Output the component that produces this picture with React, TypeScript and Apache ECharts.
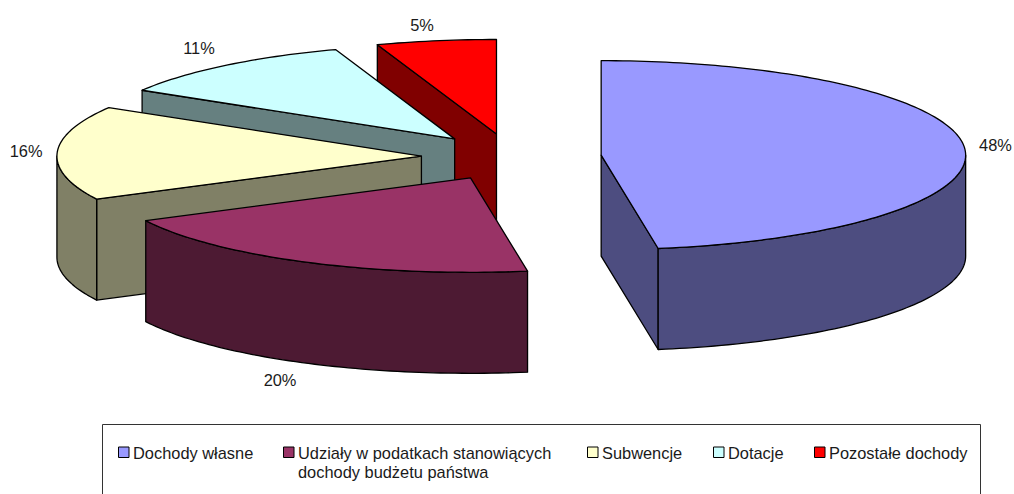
import React, { useEffect, useRef } from "react";
import * as echarts from "echarts";

const categories = ["Dochody własne", "Udziały w podatkach stanowiących\ndochody budżetu państwa", "Subwencje", "Dotacje", "Pozostałe dochody"];
const shares = [47.5, 20, 16.1, 11.1, 5.3];
const percentLabels = ["48%", "20%", "16%", "11%", "5%"];
const topColors = ["#9999FF", "#993366", "#FFFFCC", "#CCFFFF", "#FF0000"];
const wallColors = ["#4D4D80", "#4D1A33", "#808066", "#668080", "#800000"];

const CX = 511.4, CY = 157, RX = 364.5, RY = 94.5, DEPTH = 101, EXPLODE = 0.247;
const LABEL_SHIFT = [[31, -3], [-25, 17], [-31, -2], [-26, -17], [-14, -16]];
const LEGEND_X = [118, 283, 587, 713, 814];
const FONT = "16.4px 'Liberation Sans', Arial, sans-serif";
const total = shares.reduce((a, b) => a + b, 0);

function rim(ax: number, ay: number, t: number): number[] {
  return [ax + RX * Math.sin(t), ay - RY * Math.cos(t)];
}
function arc(ax: number, ay: number, t0: number, t1: number): number[][] {
  const n = Math.max(2, Math.ceil(Math.abs(t1 - t0) / 0.02));
  const pts: number[][] = [];
  for (let i = 0; i <= n; i++) pts.push(rim(ax, ay, t0 + ((t1 - t0) * i) / n));
  return pts;
}

function renderSlice(_p: any, api: any) {
  const i = api.value(0);
  const before = api.value(1);
  const share = api.value(2);
  const t0 = (before / total) * 2 * Math.PI;
  const t1 = ((before + share) / total) * 2 * Math.PI;
  const mid = (t0 + t1) / 2;
  const ax = CX + EXPLODE * RX * Math.sin(mid);
  const ay = CY - EXPLODE * RY * Math.cos(mid);
  const stroke = { stroke: "#000", lineWidth: 1.3, lineJoin: "round" };
  const wall = { ...stroke, fill: wallColors[i] };
  const children: any[] = [];
  const quad = (t: number) => {
    const [x, y] = rim(ax, ay, t);
    children.push({
      type: "polygon",
      shape: { points: [[ax, ay], [x, y], [x, y + DEPTH], [ax, ay + DEPTH]] },
      style: wall,
    });
  };
  const PI = Math.PI;
  if (t0 > PI && t0 < 2 * PI) quad(t0);
  if (t1 > 0 && t1 < PI) quad(t1);
  const v0 = Math.max(t0, PI / 2);
  const v1 = Math.min(t1, (3 * PI) / 2);
  if (v1 > v0) {
    const top = arc(ax, ay, v0, v1);
    const bottom = top.map(([x, y]) => [x, y + DEPTH]).reverse();
    children.push({ type: "polygon", shape: { points: [...top, ...bottom] }, style: wall });
  }
  children.push({
    type: "polygon",
    shape: { points: [[ax, ay], ...arc(ax, ay, t0, t1)] },
    style: { ...stroke, fill: topColors[i] },
  });
  const [rx, ry] = rim(ax, ay, mid);
  const lower = mid > PI / 2 && mid < (3 * PI) / 2 && Math.cos(mid) < -0.5;
  children.push({
    type: "text",
    style: {
      text: percentLabels[i],
      x: rx + LABEL_SHIFT[i][0],
      y: ry + (lower ? DEPTH : 0) + LABEL_SHIFT[i][1],
      align: "center",
      verticalAlign: "middle",
      fill: "#1a1a1a",
      font: FONT,
    },
  });
  return { type: "group", children };
}

export default function App() {
  const ref = useRef<HTMLDivElement>(null);
  useEffect(() => {
    const chart = echarts.init(ref.current!, undefined, { renderer: "svg" });
    const rows: number[][] = [];
    let acc = 0;
    shares.forEach((s, i) => {
      rows.push([i, acc, s]);
      acc += s;
    });
    const legend: any[] = [
      {
        type: "rect",
        shape: { x: 102.5, y: 424.5, width: 878, height: 120 },
        style: { fill: "#fff", stroke: "#333", lineWidth: 1 },
      },
    ];
    categories.forEach((c, i) => {
      legend.push({
        type: "rect",
        shape: { x: LEGEND_X[i] + 0.5, y: 447.0, width: 10.5, height: 10.5 },
        style: { fill: topColors[i], stroke: "#000", lineWidth: 1 },
      });
      legend.push({
        type: "text",
        x: LEGEND_X[i] + 15,
        y: 443,
        style: {
          text: c,
          fill: "#1a1a1a",
          font: FONT,
          lineHeight: 19,
          textVerticalAlign: "top",
        },
      });
    });
    chart.setOption({
      animation: false,
      backgroundColor: "#fff",
      graphic: legend,
      series: [
        {
          type: "custom",
          coordinateSystem: "none",
          silent: true,
          renderItem: renderSlice,
          data: rows.slice().reverse(),
        },
      ],
    });
    return () => chart.dispose();
  }, []);
  return <div ref={ref} style={{ position: "absolute", left: 0, top: 0, width: 1014, height: 494 }} />;
}
